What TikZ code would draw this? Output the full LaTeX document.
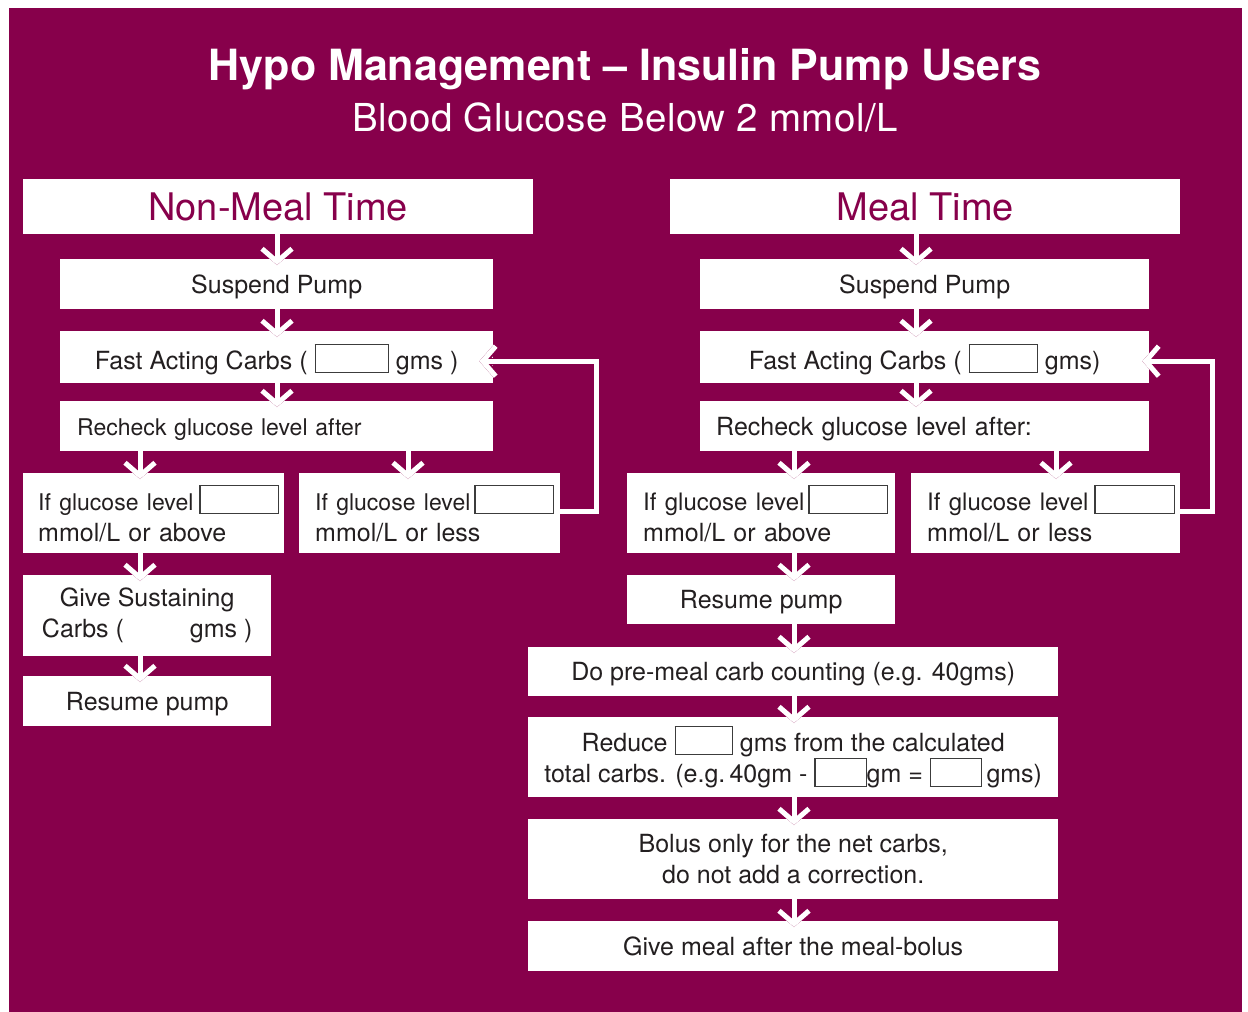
\documentclass[tikz,border=0pt]{standalone}
\usepackage{fontspec}
\setmainfont{TeX Gyre Heros}
\usetikzlibrary{arrows.meta,calc}

\definecolor{hypo}{HTML}{87004B}
\definecolor{ink}{HTML}{231F20}
\definecolor{framegray}{HTML}{3C3C3C}

\newcommand\body{\fontsize{25}{31}\selectfont}
\newcommand\narrow[1]{\fontsize{#1}{31}\selectfont}
\newcommand\headfont{\fontsize{38}{40}\selectfont}
% empty box to write a value in
\newcommand\blank[1]{{\fboxsep=0pt\fboxrule=1.2pt\fcolorbox{framegray}{white}{\rule[-3pt]{0pt}{27pt}\hspace{#1pt}}}}

\tikzset{
  panel/.style={fill=white, inner sep=0pt, anchor=north west, text=ink, font=\body, align=center},
  one/.style={text height=18pt, text depth=0pt},
  head/.style={panel, one, text=hypo, font=\headfont, text height=27pt, minimum width=510pt, minimum height=55pt},
  flow/.style={white, line width=5pt, -{Straight Barb[length=13pt,width=30pt]},
    preaction={draw=hypo, line width=7pt, -{Straight Barb[length=13pt,width=30pt]}}},
}

\begin{document}
\begin{tikzpicture}[x=1pt,y=-1pt]
    \useasboundingbox (0,0) rectangle (1248,1012);
    \fill[white] (0,0) rectangle (1248,1012);
    \fill[hypo] (9,8) rectangle (1242,1012);

    \node[anchor=base, text=white, font=\fontsize{43}{48}\selectfont\bfseries] (title) at (625,80) {Hypo Management – Insulin Pump Users};
    \node[anchor=base, text=white, font=\fontsize{38.5}{42}\selectfont\addfontfeature{LetterSpace=1.2}] (subtitle) at (625,131) {Blood Glucose Below 2 mmol/L};

    % non-meal time
    \node[head] (headL) at (23,179) {Non-Meal Time};
    \node[panel, one, minimum width=433pt, minimum height=50pt] (suspL) at (60,259) {Suspend Pump};
    \node[panel, one, text height=24pt, minimum width=433pt, minimum height=52pt] (fastL) at (60,331) {Fast Acting Carbs ( \blank{72} gms )};
    \node[panel, one, align=left, inner xsep=17pt, text width=399pt, minimum height=50pt, font=\narrow{23}] (recheckL) at (60,401) {Recheck glucose level after};
    \node[panel, align=left, inner xsep=15pt, text width=231pt, minimum height=80pt] (aboveL) at (23,473) {\mbox{{\narrow{23}If glucose level}\hspace{6pt}\blank{77}}\\mmol/L or above};
    \node[panel, align=left, inner xsep=16pt, text width=229pt, minimum height=80pt] (lessL) at (299,473) {\mbox{{\narrow{23}If glucose level}\hspace{4pt}\blank{77}}\\mmol/L or less};
    \node[panel, minimum width=248pt, minimum height=81pt] (sustL) at (23,575) {Give Sustaining\\Carbs (\hspace{66pt}gms )};
    \node[panel, one, minimum width=248pt, minimum height=50pt] (resumeL) at (23,676) {Resume pump};

    % meal time
    \node[head] (headR) at (670,179) {Meal Time};
    \node[panel, one, minimum width=449pt, minimum height=50pt] (suspR) at (700,259) {Suspend Pump};
    \node[panel, one, text height=24pt, minimum width=449pt, minimum height=52pt] (fastR) at (700,331) {Fast Acting Carbs ( \blank{67} gms)};
    \node[panel, one, align=left, inner xsep=16pt, text width=417pt, minimum height=50pt] (recheckR) at (700,401) {Recheck glucose level after:};
    \node[panel, align=left, inner xsep=16pt, text width=236pt, minimum height=80pt] (aboveR) at (627,473) {\mbox{{\narrow{24}If glucose level}\hspace{4pt}\blank{77}}\\mmol/L or above};
    \node[panel, align=left, inner xsep=16pt, text width=237pt, minimum height=80pt] (lessR) at (911,473) {\mbox{{\narrow{24}If glucose level}\hspace{6pt}\blank{78}}\\mmol/L or less};
    \node[panel, one, minimum width=268pt, minimum height=49pt] (resumeR) at (627,575) {Resume pump};
    \node[panel, one, minimum width=530pt, minimum height=49pt] (premeal) at (528,647) {Do pre-meal carb counting (e.g. 40gms)};
    \node[panel, minimum width=530pt, minimum height=80pt, font=\fontsize{25}{30}\selectfont] (reduce) at (528,717) {Reduce \blank{56} gms from the calculated\\total carbs. (e.g.\,40gm - \blank{50}gm = \blank{50}\,gms)};
    \node[panel, minimum width=530pt, minimum height=80pt] (bolus) at (528,819) {Bolus only for the net carbs,\\do not add a correction.};
    \node[panel, one, minimum width=530pt, minimum height=50pt] (meal) at (528,921) {Give meal after the meal-bolus};

    % arrow columns
    \coordinate (xL) at (277,0);
    \coordinate (xLa) at (140,0);
    \coordinate (xLb) at (408,0);
    \coordinate (xR) at (916,0);
    \coordinate (xRa) at (794,0);
    \coordinate (xRb) at (1056,0);

    \foreach \src/\dst/\col in {headL/suspL/xL, suspL/fastL/xL, fastL/recheckL/xL,
        recheckL/aboveL/xLa, aboveL/sustL/xLa, sustL/resumeL/xLa, recheckL/lessL/xLb,
        headR/suspR/xR, suspR/fastR/xR, fastR/recheckR/xR,
        recheckR/aboveR/xRa, aboveR/resumeR/xRa, resumeR/premeal/xRa, premeal/reduce/xRa,
        reduce/bolus/xRa, bolus/meal/xRa, recheckR/lessR/xRb}
    \draw[flow] (\src.south -| \col) -- ($(\dst.north -| \col)+(0,6)$);

    % back to fast acting carbs
    \draw[flow] ($(lessL.north east)+(0,38)$) -- ++(36,0) |- ($(fastL.east)+(-14,4)$);
    \draw[flow] ($(lessR.north east)+(0,38)$) -- ++(32,0) |- ($(fastR.east)+(-7,4)$);
\end{tikzpicture}
\end{document}
